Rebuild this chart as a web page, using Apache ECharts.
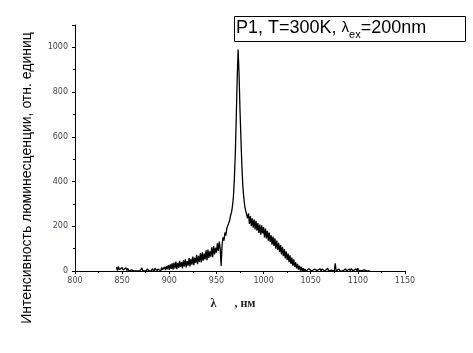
<!DOCTYPE html>
<html>
<head>
<meta charset="utf-8">
<script src="https://cdn.jsdelivr.net/npm/echarts@6/dist/echarts.min.js"></script>
<style>
  html, body { margin: 0; padding: 0; background: #fff; }
  #chart { width: 473px; height: 353px; }
</style>
</head>
<body>
<div id="chart"></div>
<script>
// спектр люминесценции, шаг 1 нм начиная с 844 нм
var startNm = 844;
var intensity = [
  18, 2, 20, 6, 14, 0, 16, 4, 12, 0,
  15, 2, 11, 0, 8, 0, 5, 0, 2, 0,
  0, 3, 0, 6, 0, 2, 9, 14, 0, 2,
  7, 0, 4, 9, 0, 2, 8, 0, 10, 3,
  0, 12, 4, 0, 9, 2, 14, 0, 16, 6,
  2, 18, 4, 22, 8, 26, 5, 30, 10, 34,
  6, 38, 12, 42, 8, 36, 14, 45, 18, 40,
  12, 48, 20, 52, 16, 44, 24, 58, 20, 54,
  28, 64, 26, 60, 36, 72, 30, 68, 40, 80,
  38, 84, 46, 78, 52, 92, 48, 96, 58, 88,
  64, 106, 62, 112, 74, 104, 82, 124, 90, 132,
  100, 22, 118, 150, 136, 172, 158, 190, 182, 214,
  226, 248, 262, 290, 330, 410, 520, 680, 860, 990,
  880, 720, 590, 470, 380, 330, 290, 270, 262, 236,
  258, 210, 246, 200, 236, 194, 230, 186, 224, 180,
  214, 170, 208, 162, 204, 168, 196, 150, 190, 146,
  180, 136, 172, 130, 160, 118, 154, 112, 146, 100,
  136, 94, 126, 84, 116, 74, 108, 66, 98, 56,
  88, 50, 78, 40, 70, 32, 60, 24, 52, 18,
  40, 12, 32, 6, 24, 2, 18, 0, 12, 0,
  9, 0, 6, 0, 10, 2, 7, 0, 4, 0,
  8, 0, 12, 2, 6, 0, 10, 0, 9, 1,
  5, 0, 8, 0, 12, 0, 6, 2, 4, 0,
  3, 0, 34, 0, 2, 5, 9, 0, 7, 2,
  0, 8, 3, 10, 0, 6, 2, 9, 0, 11,
  4, 0, 7, 2, 10, 0, 12, 3, 0, 8,
  2, 10, 0, 5, 1, 8, 0, 4, 1, 0
];
var xTicks = [800, 850, 900, 950, 1000, 1050, 1100, 1150];
var yTicks = [0, 200, 400, 600, 800, 1000];

var points = intensity.map(function (v, i) { return [startNm + i, v]; });

var chart = echarts.init(document.getElementById('chart'));
chart.setOption({
  backgroundColor: '#fff',
  animation: false,
  title: {
    text: 'P1, T=300K, {l|λ}{sub|ex}=200nm',
    left: 234,
    top: 13,
    padding: [3, 40, 2, 2],
    borderColor: '#000',
    borderWidth: 1,
    textStyle: {
      fontFamily: 'Liberation Sans',
      fontSize: 18,
      fontWeight: 'normal',
      color: '#000',
      rich: {
        l: { fontFamily: 'Liberation Sans', fontSize: 15, color: '#000' },
        sub: { fontFamily: 'Liberation Sans', fontSize: 11, color: '#000', padding: [13, 0, 0, 0] }
      }
    }
  },
  grid: { left: 75, right: 68, top: 25, bottom: 82 },
  xAxis: {
    type: 'value',
    min: xTicks[0],
    max: xTicks[xTicks.length - 1],
    interval: 50,
    name: 'λ      , нм',
    nameLocation: 'middle',
    nameGap: 27,
    nameTextStyle: {
      fontFamily: 'Liberation Serif', fontWeight: 'bold', fontSize: 12, color: '#222',
      padding: [0, 14, 0, 0]
    },
    axisLine: { lineStyle: { color: '#000', width: 1 } },
    axisTick: { length: 3, lineStyle: { color: '#000' } },
    minorTick: { show: true, splitNumber: 2, length: 2, lineStyle: { color: '#000' } },
    axisLabel: {
      fontFamily: 'DejaVu Sans', fontSize: 8, color: '#445', margin: 6,
      formatter: function (v) { return String(v); }
    },
    splitLine: { show: false }
  },
  yAxis: {
    type: 'value',
    min: yTicks[0],
    max: 1100,
    interval: 200,
    axisLine: { show: true, lineStyle: { color: '#000', width: 1 } },
    axisTick: { show: true, length: 3, lineStyle: { color: '#000' } },
    minorTick: { show: true, splitNumber: 2, length: 2, lineStyle: { color: '#000' } },
    axisLabel: {
      fontFamily: 'DejaVu Sans', fontSize: 8, color: '#445', margin: 7, showMaxLabel: false,
      formatter: function (v) { return String(v); }
    },
    splitLine: { show: false }
  },
  graphic: [{
    type: 'text',
    x: 27,
    y: 178,
    rotation: Math.PI / 2,
    style: {
      text: 'Интенсивность люминесценции, отн. единиц',
      fontFamily: 'Liberation Sans',
      fontSize: 14,
      fill: '#000',
      align: 'center',
      verticalAlign: 'middle'
    }
  }],
  series: [{
    type: 'line',
    data: points,
    showSymbol: false,
    lineStyle: { color: '#000', width: 1.3 },
    clip: true
  }]
});
</script>
</body>
</html>
